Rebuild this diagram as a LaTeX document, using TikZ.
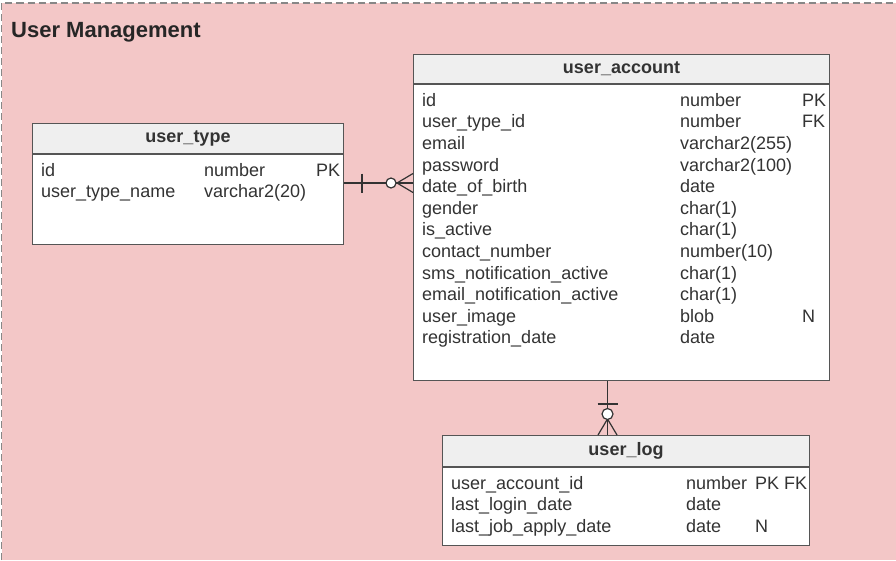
\documentclass[tikz,border=0pt]{standalone}
\usepackage{fontspec}
\setmainfont{Liberation Sans}
\usepackage{xcolor}
\usepackage{tikz}
\usetikzlibrary{positioning}

\definecolor{bgpink}{RGB}{243,199,199}
\definecolor{headgray}{RGB}{239,239,239}
\definecolor{linegray}{RGB}{85,85,85}
\definecolor{textgray}{RGB}{51,51,51}
\definecolor{dashgray}{RGB}{135,135,135}

\begin{document}
\begin{tikzpicture}
[x=1pt, y=-1pt]
\tikzset{
	tablehead/.style = {draw=linegray, fill=headgray, line width=1pt, inner sep=0, text=textgray, font=\fontsize{18}{21.6}\selectfont\bfseries},
	tablebody/.style = {draw=linegray, fill=white, line width=1pt, inner sep=0},
	rows/.style = {inner sep=0, text=textgray, font=\fontsize{18}{21.6}\selectfont},
	conn/.style = {draw=textgray, line width=1.2pt}
}

\useasboundingbox (0,0) rectangle (896,560);
\fill [bgpink] (2,3) rectangle (896,560);
\draw [dashgray, line width=1.5pt, dash pattern=on 7pt off 4pt] (1.5,560) -- (1.5,3) -- (896,3);

\node (title) [anchor=base west, inner sep=0, text=black!85, font=\fontsize{22}{26}\selectfont\bfseries] at (11,37) {User Management};

% user_type
\node (typehead) [tablehead, minimum width=311pt, minimum height=30pt, anchor=north west] at (32,123) {user\_type};
\node (type) [tablebody, minimum width=311pt, minimum height=90pt, anchor=north] at (typehead.south) {};
\node (typerows) [rows, anchor=north west] at ([shift={(9,7)}]type.north west) {%
	\begin{tabular}{@{}p{163pt}@{}p{112pt}@{}l@{}}
	id & number & PK\\
	user\_type\_name & varchar2(20) &
	\end{tabular}};

% user_account
\node (accounthead) [tablehead, minimum width=416pt, minimum height=29pt, anchor=north west] at (413,54) {user\_account};
\node (account) [tablebody, minimum width=416pt, minimum height=296pt, anchor=north] at (accounthead.south) {};
\node (accountrows) [rows, anchor=north west] at ([shift={(9,7)}]account.north west) {%
	\begin{tabular}{@{}p{258pt}@{}p{122pt}@{}l@{}}
	id & number & PK\\
	user\_type\_id & number & FK\\
	email & varchar2(255) & \\
	password & varchar2(100) & \\
	date\_of\_birth & date & \\
	gender & char(1) & \\
	is\_active & char(1) & \\
	contact\_number & number(10) & \\
	sms\_notification\_active & char(1) & \\
	email\_notification\_active & char(1) & \\
	user\_image & blob & N\\
	registration\_date & date &
	\end{tabular}};

% user_log
\node (loghead) [tablehead, minimum width=367pt, minimum height=31pt, anchor=north west] at (442,435) {user\_log};
\node (log) [tablebody, minimum width=367pt, minimum height=78pt, anchor=north] at (loghead.south) {};
\node (logrows) [rows, anchor=north west] at ([shift={(9,7)}]log.north west) {%
	\begin{tabular}{@{}p{235pt}@{}p{69pt}@{}l@{}}
	user\_account\_id & number & PK FK\\
	last\_login\_date & date & \\
	last\_job\_apply\_date & date & N
	\end{tabular}};

% user_type -> user_account
\coordinate (t1) at ([shift={(0,29)}]type.north east);
\coordinate (a1) at (t1 -| account.west);
\draw [conn] (t1) -- (a1);
\draw [conn] ([shift={(18,-9.5)}]t1) -- ([shift={(18,9.5)}]t1);
\draw [conn] ([shift={(-16,0)}]a1) -- ([shift={(0,-9.5)}]a1);
\draw [conn] ([shift={(-16,0)}]a1) -- ([shift={(0,9.5)}]a1);
\draw [conn, fill=white] ([shift={(-22,0)}]a1) circle [radius=5pt];

% user_account -> user_log
\coordinate (a2) at ([shift={(-14,0)}]account.south);
\coordinate (l2) at (a2 |- loghead.north);
\draw [conn] (a2) -- (l2);
\draw [conn] ([shift={(-10,23)}]a2) -- ([shift={(10,23)}]a2);
\draw [conn] ([shift={(0,-16)}]l2) -- ([shift={(-9.5,0)}]l2);
\draw [conn] ([shift={(0,-16)}]l2) -- ([shift={(9.5,0)}]l2);
\draw [conn, fill=white] ([shift={(0,33)}]a2) circle [radius=5.5pt];
\end{tikzpicture}
\end{document}
